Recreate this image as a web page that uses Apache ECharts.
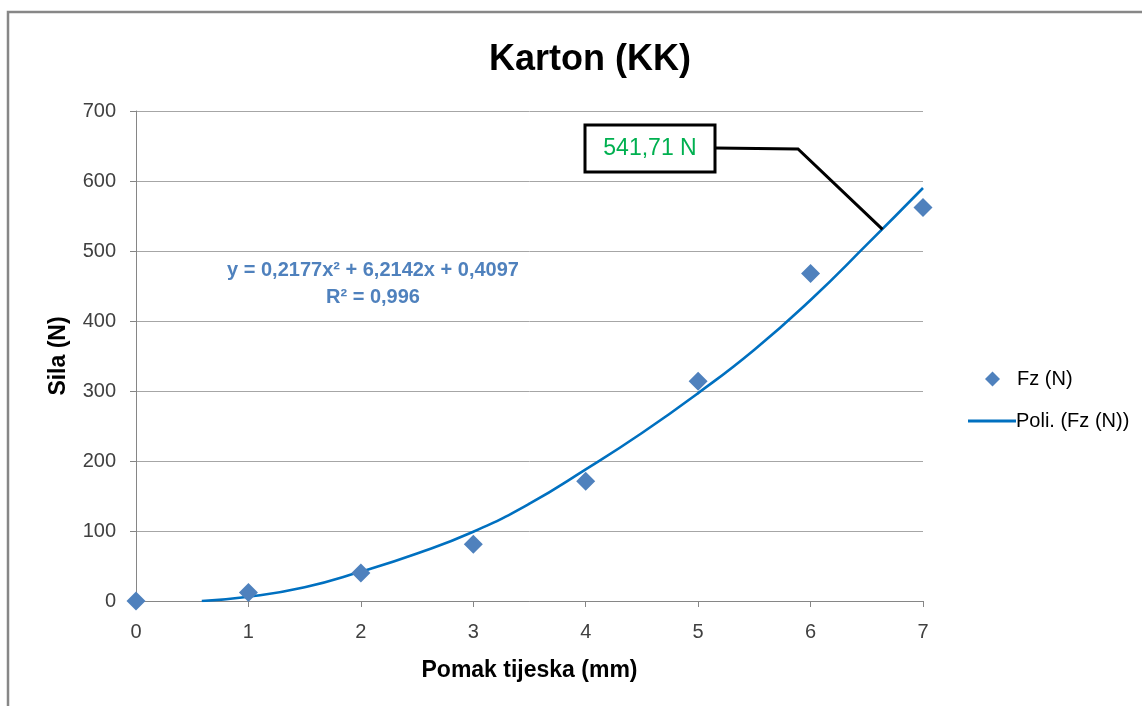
<!DOCTYPE html>
<html>
<head>
<meta charset="utf-8">
<script src="https://cdn.jsdelivr.net/npm/echarts@6/dist/echarts.min.js"></script>
<style>
html,body{margin:0;padding:0;background:#fff;}
#main{width:1142px;height:706px;}
</style>
</head>
<body>
<div id="main"></div>
<script>
// Measured data points (x = displacement, y = force)
const pomak = [0, 1, 2, 3, 4, 5, 6, 7];
const sila = [0, 12, 40, 81, 171, 314, 468, 562];
// Polynomial trendline
const trendX = [0.585, 1, 1.5, 2, 2.5, 3, 3.5, 4, 4.5, 5, 5.5, 6, 6.5, 7];
const trendY = [0, 6, 19.6, 42, 68, 99, 139, 188, 240, 297, 359, 430, 509, 590];
const xTicks = [0, 1, 2, 3, 4, 5, 6, 7];
const yTicks = [0, 100, 200, 300, 400, 500, 600, 700];
const titleText = 'Karton (KK)';
const seriesNames = ['Fz (N)', 'Poli. (Fz (N))'];
const equationLines = ['y = 0,2177x² + 6,2142x + 0,4097', 'R² = 0,996'];
const calloutText = '541,71 N';
const calloutAnchor = [6.64, 531];

const FONT = '"Liberation Sans", Arial, sans-serif';
const chart = echarts.init(document.getElementById('main'));

const option = {
  backgroundColor: '#ffffff',
  animation: false,
  title: {
    text: titleText,
    left: 585, top: 37, textAlign: 'center',
    textStyle: {fontFamily: FONT, fontSize: 36, fontWeight: 'bold', color: '#000'}
  },
  grid: {left: 136, right: 219, top: 111, bottom: 105, containLabel: false},
  xAxis: {
    type: 'value', min: xTicks[0], max: xTicks[xTicks.length - 1], interval: 1,
    name: 'Pomak tijeska (mm)', nameLocation: 'middle', nameGap: 58,
    nameTextStyle: {fontFamily: FONT, fontSize: 23, fontWeight: 'bold', color: '#000'},
    axisLine: {show: true, onZero: false, lineStyle: {color: '#868686', width: 1}},
    axisTick: {show: true, inside: false, length: 6, lineStyle: {color: '#868686'}},
    axisLabel: {fontFamily: FONT, fontSize: 20, color: '#404040', margin: 21},
    splitLine: {show: false}
  },
  yAxis: {
    type: 'value', min: yTicks[0], max: yTicks[yTicks.length - 1], interval: 100,
    name: 'Sila (N)', nameLocation: 'middle', nameGap: 66, nameRotate: 90,
    nameTextStyle: {fontFamily: FONT, fontSize: 23, fontWeight: 'bold', color: '#000'},
    axisLine: {show: true, lineStyle: {color: '#868686', width: 1}},
    axisTick: {show: true, inside: false, length: 6, lineStyle: {color: '#868686'}},
    axisLabel: {fontFamily: FONT, fontSize: 20, color: '#404040', margin: 20},
    splitLine: {show: true, lineStyle: {color: '#a6a6a6', width: 1}}
  },
  legend: [
    {
      data: [{name: seriesNames[0], icon: 'diamond'}],
      left: 980, top: 364, itemWidth: 15, itemHeight: 15,
      textStyle: {fontFamily: FONT, fontSize: 20, color: '#000', padding: [0, 0, 0, 12]}
    },
    {
      data: [{name: seriesNames[1], icon: 'rect'}],
      left: 963, top: 406, itemWidth: 48, itemHeight: 3,
      textStyle: {fontFamily: FONT, fontSize: 20, color: '#000', padding: [0, 0, 0, -5]}
    }
  ],
  series: [
    {
      name: seriesNames[0], type: 'scatter', symbol: 'diamond', symbolSize: 19,
      itemStyle: {color: '#4f81bd', opacity: 1},
      data: pomak.map((x, i) => [x, sila[i]]),
      z: 3
    },
    {
      name: seriesNames[1], type: 'line', smooth: true, symbol: 'none', showSymbol: false,
      lineStyle: {color: '#0070c0', width: 2.6},
      itemStyle: {color: '#0070c0'},
      data: trendX.map((x, i) => [x, trendY[i]]),
      z: 2
    }
  ]
};
chart.setOption(option);

const anchor = chart.convertToPixel({gridIndex: 0}, calloutAnchor);
chart.setOption({
  graphic: [
    {type: 'rect', x: 8, y: 12, shape: {x: 0, y: 0, width: 1300, height: 900}, silent: true,
     style: {fill: 'none', stroke: '#878787', lineWidth: 2.5}, z: 0},
    {type: 'text', x: 373, y: 270, silent: true,
     style: {text: equationLines[0], align: 'center', verticalAlign: 'middle',
             font: 'bold 20px ' + FONT, fill: '#4f81bd'}, z: 10},
    {type: 'text', x: 373, y: 297, silent: true,
     style: {text: equationLines[1], align: 'center', verticalAlign: 'middle',
             font: 'bold 20px ' + FONT, fill: '#4f81bd'}, z: 10},
    {type: 'polyline', silent: true, z: 9,
     shape: {points: [[715, 148], [798, 149], [anchor[0], anchor[1]]]},
     style: {stroke: '#000', lineWidth: 3, fill: 'none'}},
    {type: 'rect', silent: true, z: 10, x: 585, y: 125,
     shape: {width: 130, height: 47},
     style: {fill: '#fff', stroke: '#000', lineWidth: 3}},
    {type: 'text', silent: true, z: 11, x: 650, y: 149,
     style: {text: calloutText, align: 'center', verticalAlign: 'middle',
             font: '23px ' + FONT, fill: '#00b050'}}
  ]
});
</script>
</body>
</html>
